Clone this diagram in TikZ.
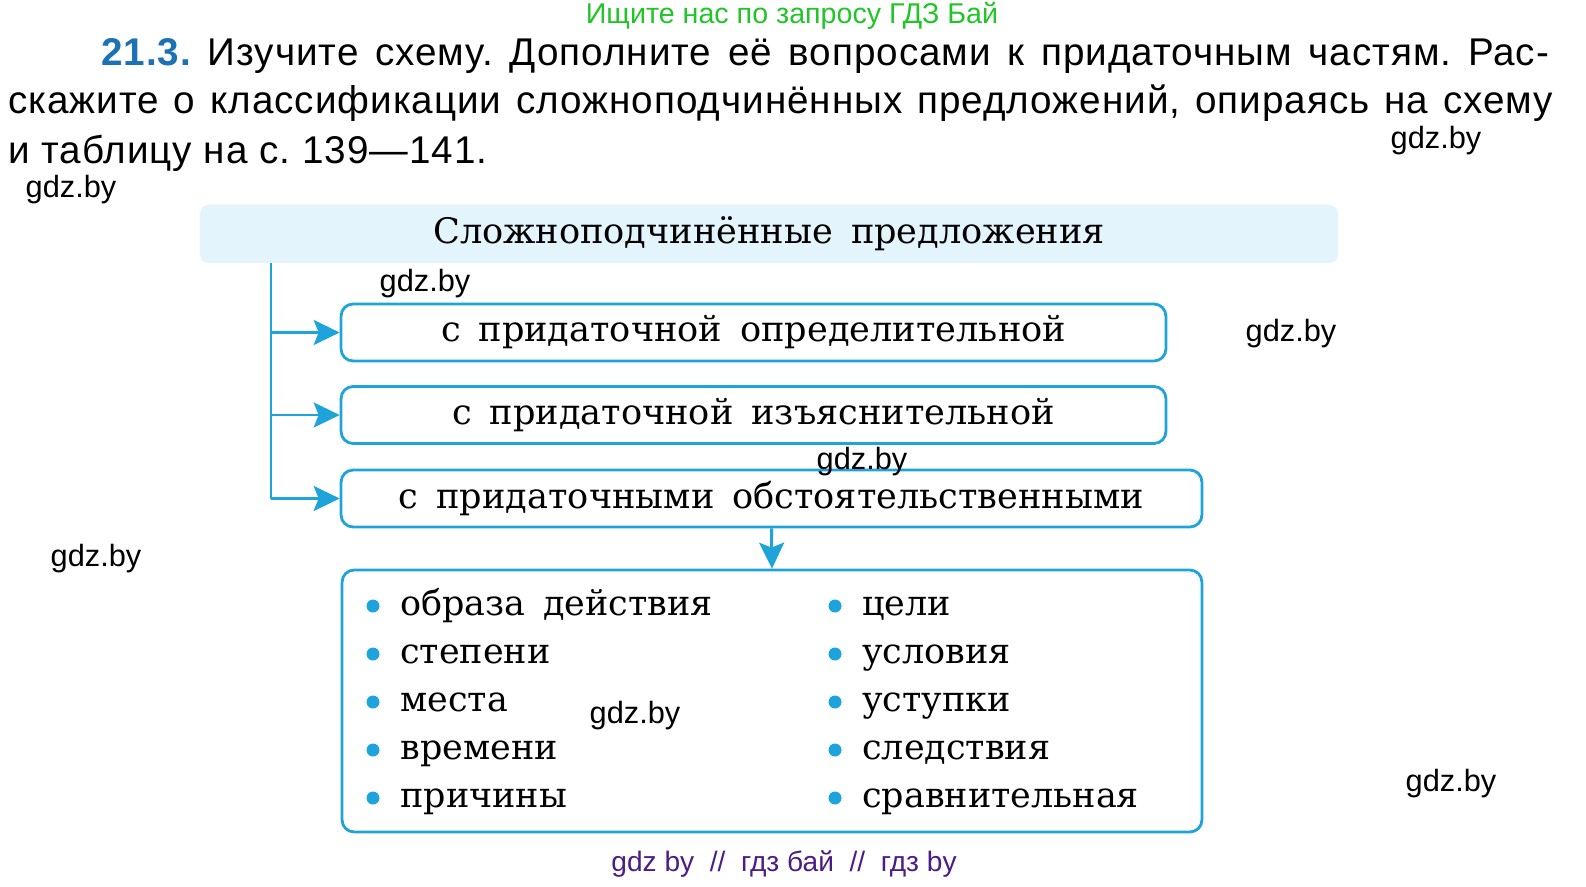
\documentclass[tikz,border=0pt]{standalone}
\usepackage{fontspec}
\setmainfont{DejaVu Serif}
\newfontfamily\schemefont[WordSpace=1.6]{DejaVu Serif}
\newfontfamily\headfont[LetterSpace=2.5]{Liberation Sans}
\newfontfamily\markfont{Liberation Sans}
\usetikzlibrary{arrows.meta}
\definecolor{schemeblue}{HTML}{1FA3DB}
\definecolor{titlefill}{HTML}{E4F4FD}
\definecolor{numblue}{HTML}{1B72B5}
\definecolor{markgreen}{HTML}{22C528}
\definecolor{markviolet}{HTML}{4B1D86}
\frenchspacing
\tikzset{head/.style = {anchor=base west, inner sep=0, font=\headfont\fontsize{22}{24}\selectfont}}
\tikzset{box/.style = {draw=schemeblue, line width=1.6pt, rounded corners=0.24cm, minimum height=1.14cm, font=\schemefont\fontsize{20}{24}\selectfont}}
\tikzset{link/.style = {schemeblue, line width=1.7pt}}
\tikzset{arrowlink/.style = {link, -{Stealth[length=0.52cm, width=0.5cm, inset=0.1cm]}}}
\tikzset{dot/.style = {fill=schemeblue, circle, inner sep=0, minimum size=0.26cm}}
\tikzset{item/.style = {anchor=base west, inner sep=0, font=\schemefont\fontsize{19.9}{24}\selectfont}}
\tikzset{wmark/.style = {inner sep=0, font=\markfont\fontsize{17.5}{20}\selectfont}}

\begin{document}
\begin{tikzpicture}[x=0.02cm,y=-0.02cm]
        \useasboundingbox (0,0) rectangle (1586,886);
        % task text
        \node [markgreen, inner sep=0, font=\markfont\fontsize{16.3}{18}\selectfont] (search) at (792,16) {Ищите нас по запросу ГДЗ Бай};
        \node [head] (line1) at (101,65) {\makebox[28.96cm][s]{\textcolor{numblue}{\bfseries 21.3.} Изучите схему. Дополните её вопросами к придаточным частям. Рас-}};
        \node [head] (line2) at (8,113) {\makebox[30.9cm][s]{скажите о классификации сложноподчинённых предложений, опираясь на схему}};
        \node [head] (line3) at (8,163) {и таблицу на с. 139—141.};
        % scheme
        \node [fill=titlefill, rounded corners=0.16cm, minimum width=22.76cm, minimum height=1.16cm, font=\schemefont\fontsize{20}{24}\selectfont] (title) at (769,234) {Сложноподчинённые предложения};
        \node [box, minimum width=16.5cm] (attr) at (753.5,332.5) {с придаточной определительной};
        \node [box, minimum width=16.5cm] (expl) at (753.5,415) {с придаточной изъяснительной};
        \node [box, minimum width=17.22cm] (adv) at (771.5,498.5) {с придаточными обстоятельственными};
        \node [box, minimum width=17.2cm, minimum height=5.24cm] (list) at (772,701) {};
        \coordinate (trunk) at (271,0);
        \draw [link] (title.south -| trunk) -- (adv.west -| trunk);
        \foreach \kind in {attr,expl,adv}
            \draw [arrowlink] (\kind.west -| trunk) -- (\kind.west);
        \draw [arrowlink] (adv.south) -- (list.north);
        % kinds of adverbial clauses
        \foreach \word [count=\i] in {образа действия,степени,места,времени,причины} {
            \node [dot] (ldot\i) at (373,{606+48*(\i-1)}) {};
            \node [item] (left\i) at (400,{615+48*(\i-1)}) {\word};
        }
        \foreach \word [count=\i] in {цели,условия,уступки,следствия,сравнительная} {
            \node [dot] (rdot\i) at (835,{606+48*(\i-1)}) {};
            \node [item] (right\i) at (862,{615+48*(\i-1)}) {\word};
        }
        % watermarks
        \foreach \x/\y [count=\i] in {1436/141,71/190,425/284,1291/334,862/462,96/559,635/716,1451/784}
            \node [wmark] (gdz\i) at (\x,\y) {gdz.by};
        \node [markviolet, inner sep=0, font=\markfont\fontsize{16}{18}\selectfont] (footer) at (784,864) {gdz by\ \ //\ \ гдз бай\ \ //\ \ гдз by};
\end{tikzpicture}
\end{document}
